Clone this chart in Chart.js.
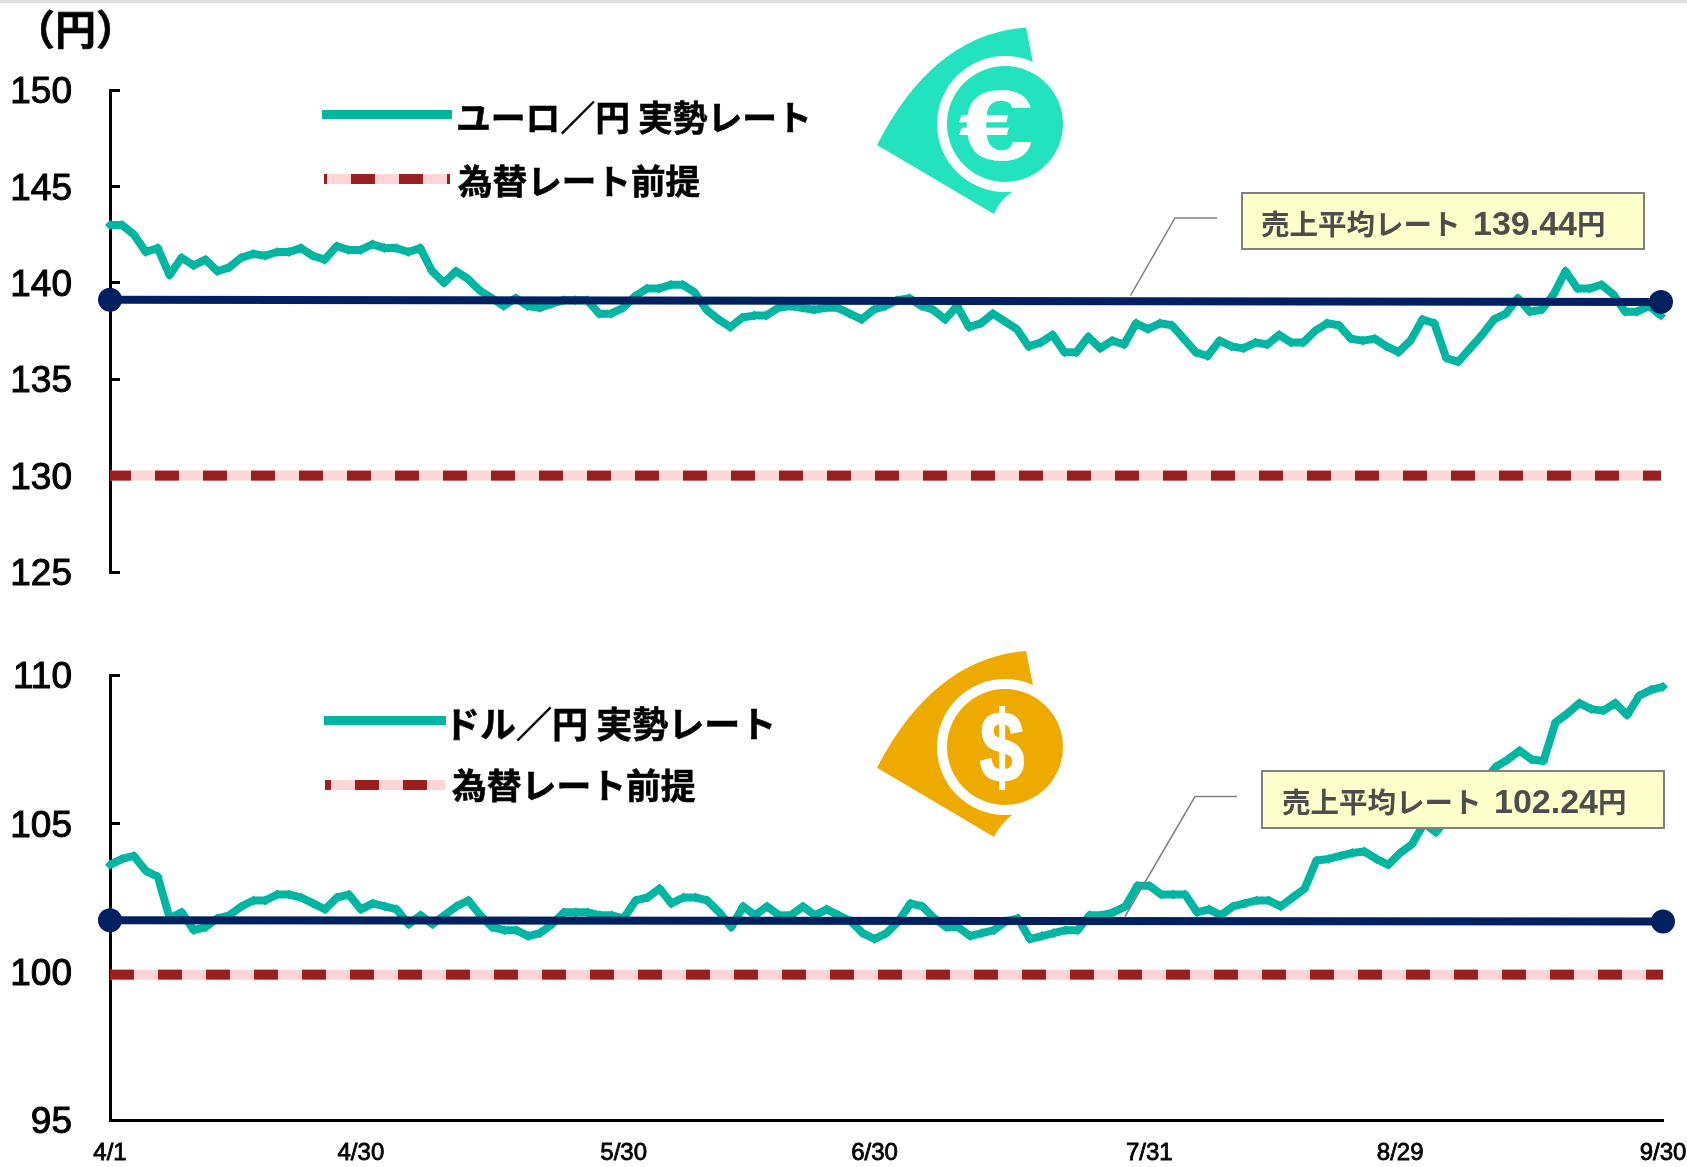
<!DOCTYPE html>
<html lang="ja">
<head>
<meta charset="utf-8">
<title>為替レート</title>
<script src="https://cdn.jsdelivr.net/npm/chart.js@4"></script>
<style>
  html, body { margin: 0; background: #fff; }
  #page { position: relative; width: 1687px; height: 1167px; overflow: hidden; font-family: "Liberation Sans", "Noto Sans CJK JP", sans-serif; font-weight: 700; color: #000; }
  #strip { position: absolute; left: 0; top: 0; width: 100%; height: 3px; background: #ddd; }
  canvas { position: absolute; left: 0; }
  #chart-eur { top: 0; }
  #chart-usd { top: 610px; }
  svg { position: absolute; left: 0; top: 0; }
  .label { position: absolute; white-space: nowrap; line-height: 1; font-family: "Noto Sans CJK JP", sans-serif; font-weight: 700; -webkit-text-stroke: 0.6px #000; transform: translateY(-50%); }
  .key { position: absolute; }
  .key-solid { background: #00b5a1; height: 9px; }
  .key-dash { height: 10px; background-image: linear-gradient(90deg, #9b1f1f 50%, #ffd6d6 50%); background-size: 48px 100%; }
  .callout { position: absolute; box-sizing: border-box; background: #ffffcc; border: 2px solid #808080; }
  .callout span { position: absolute; white-space: nowrap; line-height: 1; color: #4d4d4d; font-family: "Noto Sans CJK JP", sans-serif; font-size: 28.5px; transform: translateY(-50%); }
  .callout b { font-family: "Liberation Sans", sans-serif; font-size: 34px; margin-left: 6px; }
</style>
</head>
<body>
<div id="page">
  <div id="strip"></div>
  <canvas id="chart-eur" width="1687" height="600"></canvas>
  <canvas id="chart-usd" width="1687" height="557"></canvas>

  <svg width="1687" height="1167" viewBox="0 0 1687 1167">
    <path d="M1026,27.5 Q933.7,34 877,145 L994,214 Q1000,200 1012,192 L1033,63 Z" fill="#22e3bd"/>
    <ellipse cx="1005" cy="124" rx="68" ry="68" fill="#fff"/>
    <ellipse cx="1005" cy="124" rx="58" ry="58" fill="#22e3bd"/>
    <text transform="translate(996,160) scale(1.35,1)" text-anchor="middle" font-family="Liberation Sans" font-weight="700" font-size="100" fill="#fff">€</text>
    <path d="M1026,651 Q933.7,658.6 877,767.7 L994,837 Q1000,825 1012,815 L1033,685 Z" fill="#efaa00"/>
    <ellipse cx="1005" cy="747" rx="68" ry="68" fill="#fff"/>
    <ellipse cx="1005" cy="747" rx="58" ry="58" fill="#efaa00"/>
    <text transform="translate(1002,782) scale(0.8,1)" text-anchor="middle" font-family="Liberation Sans" font-weight="700" font-size="100" fill="#fff" stroke="#fff" stroke-width="2">$</text>
    <polyline points="1130.5,295.5 1175,218 1217,218" fill="none" stroke="#808080" stroke-width="1.5"/>
    <polyline points="1125,916.5 1195,796.6 1237,796.6" fill="none" stroke="#808080" stroke-width="1.5"/>
  </svg>

  <div class="label" style="left:14px;top:27px;font-size:41px;">（円）</div>

  <div class="key key-solid" style="left:322px;top:110px;width:130px;"></div>
  <div class="label" style="left:456px;top:116px;font-size:34.8px;">ユーロ／円 実勢レート</div>
  <div class="key key-dash" style="left:324px;top:174px;width:126px;background-position-x:27px;"></div>
  <div class="label" style="left:458px;top:179px;font-size:34.6px;">為替レート前提</div>

  <div class="key key-solid" style="left:324px;top:716px;width:122px;"></div>
  <div class="label" style="left:444px;top:722px;font-size:36px;">ドル／円 実勢レート</div>
  <div class="key key-dash" style="left:325px;top:780px;width:120px;background-position-x:30px;"></div>
  <div class="label" style="left:452px;top:784px;font-size:34.8px;">為替レート前提</div>

  <div class="callout" style="left:1241px;top:192px;width:404px;height:58px;"><span style="left:18px;top:29px;">売上平均レート <b>139.44</b>円</span></div>
  <div class="callout" style="left:1261px;top:770px;width:404px;height:59px;"><span style="left:19px;top:29px;">売上平均レート <b>102.24</b>円</span></div>
</div>

<script>
const TEAL = "#00b5a1";
const NAVY = "#002060";
const DARK_RED = "#9b1f1f";
const PINK = "#ffd6d6";

// one point per weekday, 4/1 to 9/30
const tickIndexes = [0, 21, 43, 64, 87, 108, 130];
const tickLabels = ["4/1", "4/30", "5/30", "6/30", "7/31", "8/29", "9/30"];

const eurRate = [
  143.0, 143.0, 142.5, 141.6, 141.8, 140.4, 141.3, 140.9, 141.2, 140.6,
  140.8, 141.3, 141.5, 141.4, 141.6, 141.6, 141.8, 141.4, 141.2, 141.9,
  141.7, 141.7, 142.0, 141.8, 141.8, 141.6, 141.8, 140.6, 140.0, 140.6,
  140.2, 139.6, 139.2, 138.8, 139.2, 138.8, 138.7, 138.9, 139.1, 139.1,
  139.1, 138.4, 138.4, 138.7, 139.3, 139.7, 139.7, 139.9, 139.9, 139.5,
  138.6, 138.1, 137.7, 138.2, 138.3, 138.3, 138.7, 138.8, 138.7, 138.6,
  138.7, 138.7, 138.4, 138.1, 138.6, 138.8, 139.1, 139.2, 138.8, 138.6,
  138.1, 138.8, 137.7, 137.9, 138.4, 138.0, 137.6, 136.7, 136.9, 137.3,
  136.4, 136.4, 137.2, 136.6, 137.0, 136.8, 137.9, 137.6, 137.9, 137.8,
  137.1, 136.4, 136.2, 137.0, 136.7, 136.6, 136.9, 136.8, 137.3, 136.9,
  136.9, 137.5, 137.9, 137.8, 137.1, 137.0, 137.1, 136.7, 136.4, 137.0,
  138.1, 137.9, 136.1, 135.9, 136.6, 137.3, 138.1, 138.4, 139.2, 138.5,
  138.6, 139.4, 140.6, 139.7, 139.7, 139.9, 139.4, 138.5, 138.5, 138.8,
  138.3,
];
const eurAverage = [139.12, 139.01];
const eurAssumed = [130, 130];

const usdRate = [
  103.6, 103.8, 103.9, 103.4, 103.2, 101.8, 102.0, 101.4, 101.5, 101.8,
  101.9, 102.2, 102.4, 102.4, 102.6, 102.6, 102.5, 102.3, 102.1, 102.5,
  102.6, 102.1, 102.3, 102.2, 102.1, 101.6, 101.9, 101.6, 101.9, 102.2,
  102.4, 101.9, 101.5, 101.4, 101.4, 101.2, 101.3, 101.6, 102.0, 102.0,
  102.0, 101.9, 101.9, 101.8, 102.4, 102.5, 102.8, 102.3, 102.5, 102.5,
  102.4, 102.0, 101.5, 102.2, 101.9, 102.2, 101.9, 101.9, 102.2, 101.9,
  102.1, 101.9, 101.7, 101.3, 101.1, 101.3, 101.7, 102.3, 102.2, 101.8,
  101.5, 101.5, 101.2, 101.3, 101.4, 101.7, 101.8, 101.1, 101.2, 101.3,
  101.4, 101.4, 101.9, 101.9, 102.0, 102.2, 102.9, 102.9, 102.6, 102.6,
  102.6, 102.0, 102.1, 101.9, 102.2, 102.3, 102.4, 102.4, 102.2, 102.5,
  102.8, 103.75, 103.8, 103.9, 104.0, 104.05, 103.8, 103.6, 104.0, 104.3,
  105.0, 104.7, 105.2, 105.6, 106.1, 106.4, 106.9, 107.15, 107.45, 107.15,
  107.1, 108.4, 108.7, 109.05, 108.85, 108.8, 109.05, 108.65, 109.3, 109.5,
  109.6,
];
const usdAverage = [101.73, 101.69];
const usdAssumed = [99.9, 99.9];

const categories = usdRate.map((_, i) => {
  const at = tickIndexes.indexOf(i);
  return at >= 0 ? tickLabels[at] : "";
});

// first and last value only, the line spans the gap between them
function endpoints(pair) {
  return categories.map((_, i) => (i === 0 ? pair[0] : i === categories.length - 1 ? pair[1] : null));
}

function createRateChart(canvas, opts) {
  return new Chart(canvas, {
    type: "line",
    data: {
      labels: categories,
      datasets: [
        { data: endpoints(opts.average), borderColor: NAVY, backgroundColor: NAVY, borderWidth: 8, pointBorderWidth: 0, pointRadius: 12, spanGaps: true, clip: false, order: 0 },
        { data: opts.rate, borderColor: TEAL, backgroundColor: TEAL, borderWidth: 8, borderJoinStyle: "round", pointStyle: "rectRot", pointRadius: 5, pointBorderWidth: 0, clip: false, order: 1 },
        { data: endpoints(opts.assumed), borderColor: DARK_RED, borderWidth: 10, borderDash: [24, 24], borderDashOffset: opts.dashOffset, pointRadius: 0, spanGaps: true, borderCapStyle: "butt", order: 2 },
        { data: endpoints(opts.assumed), borderColor: PINK, borderWidth: 10, pointRadius: 0, spanGaps: true, order: 3 },
      ],
    },
    options: {
      responsive: false,
      animation: false,
      layout: { padding: opts.padding },
      plugins: { legend: { display: false }, tooltip: { enabled: false } },
      scales: {
        x: {
          display: opts.showDates,
          grid: { display: false },
          border: { color: "#000", width: 3 },
          afterFit: (scale) => {
            scale.height = opts.showDates ? 47 : 0;
            scale.paddingLeft = 0;
            scale.paddingRight = 0;
          },
          ticks: {
            autoSkip: false, maxRotation: 0, minRotation: 0, padding: 11,
            color: "#000", textStrokeColor: "#000", textStrokeWidth: 0.8,
            font: { family: "Liberation Sans", size: 24 },
          },
        },
        y: {
          min: opts.min, max: opts.max,
          afterFit: (scale) => {
            scale.width = 110;
            scale.paddingTop = 0;
            scale.paddingBottom = 0;
          },
          grid: { drawOnChartArea: false, drawTicks: true, tickLength: -10, tickWidth: 3, tickColor: "#000" },
          border: { color: "#000", width: 3 },
          ticks: {
            stepSize: 5, padding: 48, labelOffset: 3,
            color: "#000", textStrokeColor: "#000", textStrokeWidth: 1,
            font: { family: "Liberation Sans", size: 37 },
          },
        },
      },
    },
  });
}

createRateChart(document.getElementById("chart-eur"), {
  rate: eurRate, average: eurAverage, assumed: eurAssumed,
  min: 125, max: 150, dashOffset: 3, showDates: false,
  padding: { top: 90, right: 26, bottom: 28, left: 0 },
});

createRateChart(document.getElementById("chart-usd"), {
  rate: usdRate, average: usdAverage, assumed: usdAssumed,
  min: 95, max: 110, dashOffset: 0, showDates: true,
  padding: { top: 65, right: 24, bottom: 0, left: 0 },
});
</script>
</body>
</html>
